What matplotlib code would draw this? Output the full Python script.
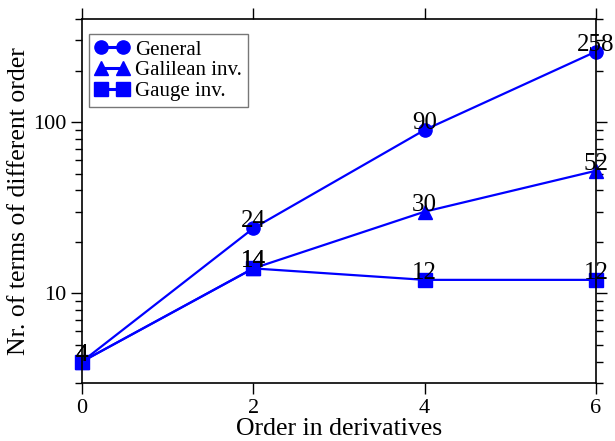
import matplotlib
matplotlib.use("Agg")
import matplotlib.pyplot as plt
from matplotlib.ticker import LogLocator, NullFormatter, FixedLocator

plt.rcParams['font.family'] = ['Liberation Serif', 'DejaVu Serif']

x = [0, 2, 4, 6]
general = [4, 24, 90, 258]
galilean = [4, 14, 30, 52]
gauge = [4, 14, 12, 12]
series_names = ["General", "Galilean inv.", "Gauge inv."]
markers = ["o", "^", "s"]
xticks = [0, 2, 4, 6]

fig = plt.figure(figsize=(6.15, 4.41), dpi=100)
ax = fig.add_axes([0.1333, 0.1315, 0.8357, 0.8255])

color = '#0000ff'
for vals, name, m in zip([general, galilean, gauge], series_names, markers):
    ax.plot(x, vals, color=color, marker=m, markersize=9.5, linewidth=1.6, label=name,
            clip_on=False)

for vals in [general, galilean, gauge]:
    for xi, yi in zip(x, vals):
        ax.annotate(str(yi), (xi, yi), xytext=(0, 5), textcoords='offset points',
                    ha='center', va='center', fontsize=18, color='black', zorder=5,
                    annotation_clip=False)

ax.set_yscale('log')
ax.set_xlim(0, 6)
ax.set_ylim(3, 400)
ax.xaxis.set_major_locator(FixedLocator(xticks))
ax.yaxis.set_major_locator(FixedLocator([10, 100]))
ax.yaxis.set_minor_locator(LogLocator(base=10, subs=range(2, 10)))
ax.yaxis.set_minor_formatter(NullFormatter())
ax.set_yticklabels(['10', '100'])
ax.tick_params(which='both', direction='out', top=True, right=True, labelsize=16, width=1.0)
ax.tick_params(which='major', length=8)
ax.tick_params(which='minor', length=5)
for s in ax.spines.values():
    s.set_linewidth(1.2)

ax.set_xlabel("Order in derivatives", fontsize=18.5, labelpad=0)
ax.set_ylabel("Nr. of terms of different order", fontsize=18.5, labelpad=2)

leg = ax.legend(loc='upper left', bbox_to_anchor=(0.0136, 0.959), borderaxespad=0.0,
                numpoints=2, fontsize=15, frameon=True, fancybox=False,
                edgecolor='#555555', handlelength=1.65, borderpad=0.3, labelspacing=0.05,
                handletextpad=0.25, markerscale=1.0)
leg.get_frame().set_linewidth(1.0)
for h in leg.legend_handles:
    h.set_linewidth(2.2)

fig.savefig("out.png", dpi=100)
